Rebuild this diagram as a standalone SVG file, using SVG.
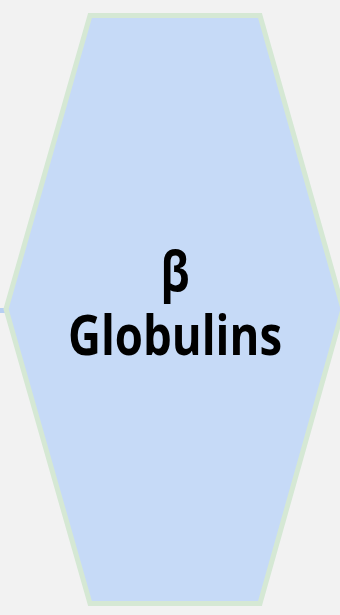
<svg xmlns="http://www.w3.org/2000/svg" width="340" height="615" viewBox="0 0 340 615">
<style>
.hex{fill:#c6daf7;stroke:#d5e8d4;stroke-width:5}
.lbl{font-family:"Open Sans","Liberation Sans",sans-serif;font-weight:700;font-size:56px;fill:#000;text-anchor:middle}
.edge{stroke:#b7cff2;stroke-width:5;fill:none}
</style>
<rect width="340" height="615" fill="#f2f2f2"/>
<g id="connectors">
<line class="edge" x1="0" y1="310.5" x2="7" y2="310.5"/>
</g>
<g id="node-beta-globulins">
<polygon class="hex" points="90,15.5 260,15.5 343,309 260,603.5 90,603.5 6,309"/>
<text class="lbl" x="175" y="291" textLength="29" lengthAdjust="spacingAndGlyphs">β</text>
<text class="lbl" x="175" y="355" textLength="214" lengthAdjust="spacingAndGlyphs">Globulins</text>
</g>
</svg>
